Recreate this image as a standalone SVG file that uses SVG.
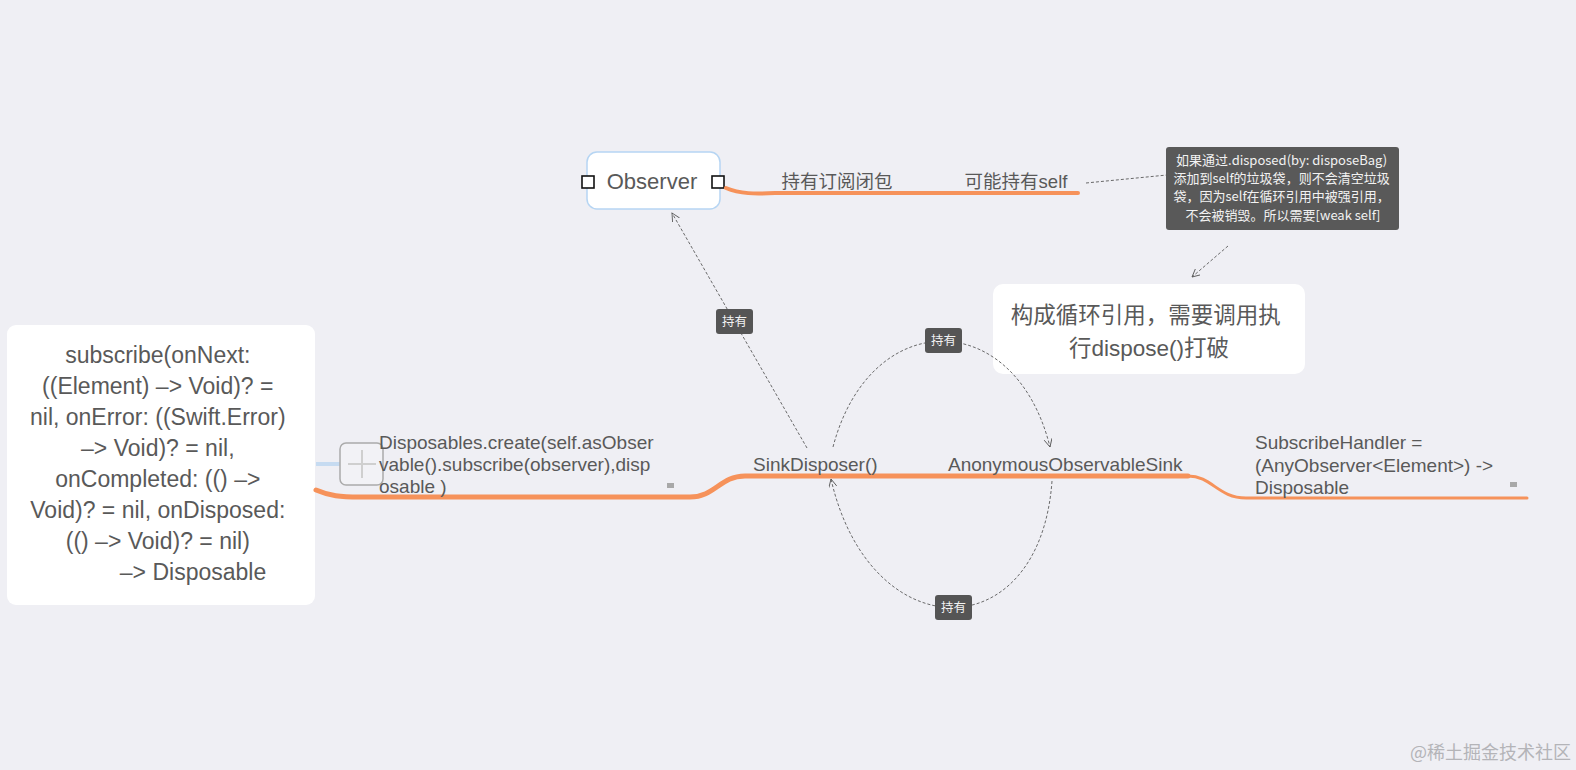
<svg xmlns="http://www.w3.org/2000/svg" width="1576" height="770" viewBox="0 0 1576 770">
<style>
  .t{font-family:"Liberation Sans","Noto Sans CJK SC",sans-serif;fill:#595959}
  .card{fill:#ffffff}
  .dash{fill:none;stroke:#5a5a5a;stroke-width:0.9;stroke-dasharray:3 2}
  .lbl{fill:#555555}
  .lt{font-family:"Noto Sans CJK SC","Liberation Sans",sans-serif;font-size:12.5px;fill:#f2f2f2}
  .orange{fill:none;stroke:#f6925a;stroke-linecap:round}
  .icon{fill:#a8a8a8}
</style>
<defs>
  <marker id="arr" markerWidth="10" markerHeight="10" refX="8" refY="4" orient="auto" markerUnits="userSpaceOnUse">
    <path d="M0,0 L8,4 L0,8" fill="none" stroke="#5a5a5a" stroke-width="0.9"/>
  </marker>
</defs>
<rect width="1576" height="770" fill="#efeff4"/>

<g id="observer">
  <rect x="587" y="152" width="133" height="57" rx="10" fill="#ffffff" stroke="#b6d5f3" stroke-width="1.5"/>
  <text class="t" x="652" y="189" font-size="22" text-anchor="middle" fill="#4a4a4a">Observer</text>
  <rect x="582" y="176" width="12" height="12" fill="#ffffff" stroke="#111" stroke-width="1.6"/>
  <rect x="712" y="176" width="12" height="12" fill="#ffffff" stroke="#111" stroke-width="1.6"/>
</g>

<g id="cycle-note">
  <rect class="card" x="993" y="284" width="312" height="90" rx="10"/>
  <text class="t" font-size="22.5" text-anchor="middle" fill="#4f4f4f">
    <tspan x="1149" y="323">构成循环引用，需要调用执</tspan>
    <tspan x="1149" y="356">行dispose()打破</tspan>
  </text>
</g>

<g id="subscribe-root">
  <rect class="card" x="7" y="325" width="308" height="280" rx="9"/>
  <text class="t" font-size="23" text-anchor="middle" fill="#505050">
    <tspan x="161" y="363">subscribe(onNext:</tspan>
    <tspan x="161" y="394">((Element) –&gt; Void)? =</tspan>
    <tspan x="161" y="425">nil, onError: ((Swift.Error)</tspan>
    <tspan x="161" y="456">–&gt; Void)? = nil,</tspan>
    <tspan x="161" y="487">onCompleted: (() –&gt;</tspan>
    <tspan x="161" y="518">Void)? = nil, onDisposed:</tspan>
    <tspan x="161" y="549">(() –&gt; Void)? = nil)</tspan>
    <tspan x="193" y="580">–&gt; Disposable</tspan>
  </text>
</g>

<g id="connectors">
  <path class="orange" stroke-width="4" d="M726,188 C740,194 755,194 775,193 L1078,193"/>
  <path class="orange" stroke-width="5" d="M316,490 C330,496 340,497 360,497 L690,497 C715,497 720,476 745,476 L1188,476"/>
  <path class="orange" stroke-width="3" d="M1188,476 C1212,476 1218,498 1246,498 L1527,498"/>
  <path d="M316,464 L340,464" stroke="#c6dbf1" stroke-width="4" fill="none"/>
  <path class="dash" d="M807,448 L672,213" marker-end="url(#arr)"/>
  <path class="dash" d="M833,447 C870,306 1015,306 1050,447" marker-end="url(#arr)"/>
  <path class="dash" d="M1052,481 C1040,650 870,650 831,479" marker-end="url(#arr)"/>
  <path class="dash" d="M1086,183 L1167,175"/>
  <path class="dash" d="M1228,246 L1192,277" marker-end="url(#arr)"/>
</g>

<g id="label-observer">
  <rect class="lbl" x="716" y="309" width="37" height="25" rx="3"/>
  <text class="lt" x="734.5" y="326" text-anchor="middle">持有</text>
</g>
<g id="label-top">
  <rect class="lbl" x="925" y="328" width="37" height="25" rx="3"/>
  <text class="lt" x="943.5" y="345" text-anchor="middle">持有</text>
</g>
<g id="label-bottom">
  <rect class="lbl" x="935" y="595" width="37" height="25" rx="3"/>
  <text class="lt" x="953.5" y="612" text-anchor="middle">持有</text>
</g>

<g id="hold-closure">
  <text class="t" x="837" y="188" font-size="18.5" text-anchor="middle">持有订阅闭包</text>
</g>
<g id="maybe-self">
  <text class="t" x="1016" y="188" font-size="18.5" text-anchor="middle">可能持有self</text>
</g>

<g id="note-weakself">
  <rect x="1166" y="147" width="233" height="83" rx="3" fill="#595959"/>
  <text class="lt" text-anchor="middle" style="font-size:13px">
    <tspan x="1283" y="165">如果通过.disposed(by: disposeBag)</tspan>
    <tspan x="1283" y="183">添加到self的垃圾袋，则不会清空垃圾</tspan>
    <tspan x="1283" y="201">袋，因为self在循环引用中被强引用，</tspan>
    <tspan x="1283" y="220">不会被销毁。所以需要[weak self]</tspan>
  </text>
</g>

<g id="collapse-button">
  <rect x="340" y="443" width="43" height="42" rx="6" fill="#f3f3f6" fill-opacity="0.8" stroke="#ababab" stroke-width="1.5"/>
  <path d="M362,450 L362,478 M348,464 L376,464" stroke="#cfcfcf" stroke-width="2"/>
</g>

<g id="disposables-create">
  <text class="t" font-size="19">
    <tspan x="379" y="449">Disposables.create(self.asObser</tspan>
    <tspan x="379" y="471">vable().subscribe(observer),disp</tspan>
    <tspan x="379" y="493">osable )</tspan>
  </text>
  <rect class="icon" x="667" y="483" width="7" height="5"/>
</g>

<g id="sink-disposer">
  <text class="t" x="753" y="471" font-size="19">SinkDisposer()</text>
</g>

<g id="anonymous-sink">
  <text class="t" x="948" y="471" font-size="19">AnonymousObservableSink</text>
</g>

<g id="subscribe-handler">
  <text class="t" font-size="19">
    <tspan x="1255" y="449">SubscribeHandler =</tspan>
    <tspan x="1255" y="472">(AnyObserver&lt;Element&gt;) -&gt;</tspan>
    <tspan x="1255" y="494">Disposable</tspan>
  </text>
  <rect class="icon" x="1510" y="482" width="7" height="5"/>
</g>

<g id="watermark">
  <text x="1571" y="759" font-size="18" text-anchor="end" font-family="Noto Sans CJK SC, sans-serif" fill="#b4b4b8">@稀土掘金技术社区</text>
</g>
</svg>
